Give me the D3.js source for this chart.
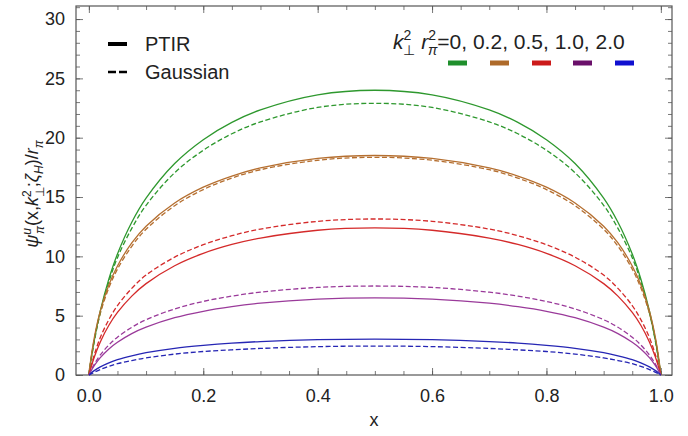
<!DOCTYPE html>
<html><head><meta charset="utf-8">
<script src="https://cdn.jsdelivr.net/npm/d3@7"></script>
<style>
body{margin:0;background:#fff}
text{font-family:"Liberation Sans",Arial,Helvetica,sans-serif;fill:#222}
</style>
</head><body>
<svg id="chart" width="688" height="436"></svg>
<script>
// ---- data ----
const xs = [0,0.003,0.01,0.02,0.035,0.05,0.075,0.1,0.15,0.2,0.25,0.3,0.4,0.5,0.6,0.7,0.75,0.8,0.85,0.9,0.925,0.95,0.965,0.98,0.99,0.997,1];
const kLabels = ["0","0.2","0.5","1.0","2.0"];
const seriesColors = ["#2e982e","#b56f30","#d42a2a","#9a3a9a","#2626b4"];
const swatchColors = ["#1f8f2c","#ae6a2a","#cc1a1a","#6a106a","#1010d0"];
const ptirK0   = [0,1.02,3.06,5.40,8.10,10.20,12.87,14.90,17.82,19.83,21.29,22.34,23.61,24.0,23.61,22.34,21.29,19.83,17.82,14.90,12.87,10.20,8.10,5.40,3.06,1.02,0];
const gaussK0  = [0,0.99,2.97,5.24,7.86,9.89,12.36,14.30,17.05,18.94,20.33,21.33,22.55,22.9,22.55,21.33,20.33,18.94,17.05,14.30,12.36,9.89,7.86,5.24,2.97,0.99,0];
const ptirK02  = [0,1.17,3.27,5.39,7.60,9.19,11.13,12.54,14.50,15.83,16.77,17.45,18.25,18.5,18.25,17.45,16.77,15.83,14.50,12.54,11.13,9.19,7.60,5.39,3.27,1.17,0];
const gaussK02 = [0,1.12,3.14,5.20,7.35,8.92,10.85,12.28,14.27,15.63,16.60,17.30,18.10,18.35,18.10,17.30,16.60,15.63,14.27,12.28,10.85,8.92,7.35,5.20,3.14,1.12,0];
const ptirK05  = [0,0.53,1.58,2.79,4.19,5.27,6.65,7.70,9.21,10.25,11.0,11.54,12.2,12.4,12.2,11.54,11.0,10.25,9.21,7.70,6.65,5.27,4.19,2.79,1.58,0.53,0];
const gaussK05 = [0,0.59,1.78,3.16,4.67,5.85,7.30,8.42,9.93,10.98,11.74,12.30,12.95,13.15,12.95,12.30,11.74,10.98,9.93,8.42,7.30,5.85,4.67,3.16,1.78,0.59,0];
const ptirK1   = [0,0.28,0.83,1.46,2.20,2.76,3.49,4.03,4.83,5.37,5.76,6.05,6.39,6.5,6.39,6.05,5.76,5.37,4.83,4.03,3.49,2.76,2.20,1.46,0.83,0.28,0];
const gaussK1  = [0,0.32,0.96,1.69,2.53,3.19,4.02,4.66,5.57,6.20,6.65,6.98,7.38,7.5,7.38,6.98,6.65,6.20,5.57,4.66,4.02,3.19,2.53,1.69,0.96,0.32,0];
const ptirK2   = [0,0.13,0.39,0.68,1.02,1.29,1.62,1.88,2.25,2.50,2.69,2.82,2.98,3.03,2.98,2.82,2.69,2.50,2.25,1.88,1.62,1.29,1.02,0.68,0.39,0.13,0];
const gaussK2  = [0,0.07,0.24,0.46,0.73,0.95,1.22,1.44,1.76,1.98,2.12,2.24,2.39,2.44,2.39,2.24,2.12,1.98,1.76,1.44,1.22,0.95,0.73,0.46,0.24,0.07,0];
const xTicks = [0,0.2,0.4,0.6,0.8,1.0];
const yTicks = [0,5,10,15,20,25,30];

const ptirSeries = [ptirK0,ptirK02,ptirK05,ptirK1,ptirK2];
const gaussSeries = [gaussK0,gaussK02,gaussK05,gaussK1,gaussK2];

// ---- layout ----
const L=76,R=672,T=6,B=375;
const svg = d3.select("#chart");
const x = d3.scaleLinear().domain([-0.0225,1.0195]).range([L,R]);
const y = d3.scaleLinear().domain([0,31.1]).range([B,T]);

const frameColor="#555";
const xMinor = d3.range(0,1.0001,0.05);
const yMinor = d3.range(0,31.1,1);
function drawAxis(axis, tr){
  const g = svg.append("g").attr("transform",tr).call(axis);
  g.select(".domain").remove();
  g.selectAll("line").attr("stroke",frameColor).attr("stroke-width",0.8);
  return g;
}
drawAxis(d3.axisBottom(x).tickValues(xMinor).tickSize(-4).tickFormat(""),`translate(0,${B})`);
drawAxis(d3.axisTop(x).tickValues(xMinor).tickSize(-4).tickFormat(""),`translate(0,${T})`);
drawAxis(d3.axisLeft(y).tickValues(yMinor).tickSize(-4).tickFormat(""),`translate(${L},0)`);
drawAxis(d3.axisRight(y).tickValues(yMinor).tickSize(-4).tickFormat(""),`translate(${R},0)`);
const gx = drawAxis(d3.axisBottom(x).tickValues(xTicks).tickSize(-7).tickPadding(14).tickFormat(d3.format(".1f")),`translate(0,${B})`);
drawAxis(d3.axisTop(x).tickValues(xTicks).tickSize(-7).tickFormat(""),`translate(0,${T})`);
const gy = drawAxis(d3.axisLeft(y).tickValues(yTicks).tickSize(-7).tickPadding(11).tickFormat(d3.format("d")),`translate(${L},0)`);
drawAxis(d3.axisRight(y).tickValues(yTicks).tickSize(-7).tickFormat(""),`translate(${R},0)`);
[gx,gy].forEach(g=>g.selectAll("text").attr("font-size",18).attr("fill","#222").style("font-family","'Liberation Sans',Arial,sans-serif"));

svg.append("rect").attr("x",L).attr("y",T).attr("width",R-L).attr("height",B-T)
  .attr("fill","none").attr("stroke",frameColor).attr("stroke-width",1.2);

// ---- curves ----
const line = d3.line().x((d,i)=>x(xs[i])).y(d=>y(d)).curve(d3.curveCatmullRom.alpha(0.5));
const plot = svg.append("g");
plot.selectAll("path.g").data(gaussSeries).join("path")
  .attr("d",line).attr("fill","none").attr("stroke",(d,i)=>seriesColors[i])
  .attr("stroke-width",1.3).attr("stroke-dasharray","5,2.5");
plot.selectAll("path.p").data(ptirSeries).join("path")
  .attr("d",line).attr("fill","none").attr("stroke",(d,i)=>seriesColors[i])
  .attr("stroke-width",1.3);

// ---- axis titles ----
svg.append("text").attr("x",(L+R)/2).attr("y",426).attr("text-anchor","middle").attr("font-size",18).text("x");

const yl = svg.append("text").attr("transform","translate(38,194) rotate(-90)")
  .attr("text-anchor","middle").attr("font-size",18);
yl.append("tspan").attr("font-style","italic").text("ψ");
yl.append("tspan").attr("font-size",12).attr("dy",-7).attr("font-style","italic").text("u");
yl.append("tspan").attr("font-size",12).attr("dx",-6).attr("dy",13).attr("font-style","italic").text("π");
yl.append("tspan").attr("dy",-6).text("(x,");
yl.append("tspan").attr("font-style","italic").text("k");
yl.append("tspan").attr("font-size",12).attr("dy",-7).text("2");
yl.append("tspan").attr("font-size",12).attr("dx",-7).attr("dy",13).text("⊥");
yl.append("tspan").attr("dy",-6).text(";");
yl.append("tspan").attr("font-style","italic").text("ζ");
yl.append("tspan").attr("font-size",12).attr("dy",5).attr("font-style","italic").text("H");
yl.append("tspan").attr("dy",-5).text(")/");
yl.append("tspan").attr("font-style","italic").text("r");
yl.append("tspan").attr("font-size",12).attr("dy",5).attr("font-style","italic").text("π");

// ---- left legend ----
const legY=[44,72];
svg.append("line").attr("x1",108).attr("x2",127).attr("y1",legY[0]).attr("y2",legY[0]).attr("stroke","#000").attr("stroke-width",4);
svg.append("line").attr("x1",108).attr("x2",127).attr("y1",legY[1]).attr("y2",legY[1]).attr("stroke","#000").attr("stroke-width",2.5).attr("stroke-dasharray","8,3");
svg.append("text").attr("x",145).attr("y",legY[0]+7).attr("font-size",20).text("PTIR");
svg.append("text").attr("x",145).attr("y",legY[1]+7).attr("font-size",20).text("Gaussian");

// ---- right legend ----
const rl = svg.append("text").attr("x",393).attr("y",49).attr("font-size",21);
rl.append("tspan").attr("font-style","italic").text("k");
rl.append("tspan").attr("font-size",14).attr("dy",-9).text("2");
rl.append("tspan").attr("font-size",14).attr("dx",-8).attr("dy",15).text("⊥");
rl.append("tspan").attr("dy",-6).text(" ");
rl.append("tspan").attr("font-style","italic").text("r");
rl.append("tspan").attr("font-size",14).attr("dy",-9).text("2");
rl.append("tspan").attr("font-size",14).attr("dx",-8).attr("dy",15).attr("font-style","italic").text("π");
rl.append("tspan").attr("dy",-6).text("=" + kLabels.join(", "));

const swx=[448,490,532,573,615];
svg.selectAll("line.sw").data(swatchColors).join("line")
  .attr("x1",(d,i)=>swx[i]).attr("x2",(d,i)=>swx[i]+19)
  .attr("y1",63).attr("y2",63).attr("stroke",d=>d).attr("stroke-width",5);
</script>
</body></html>
